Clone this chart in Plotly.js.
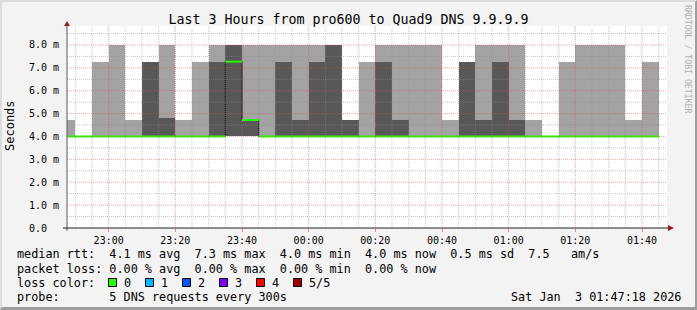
<!DOCTYPE html>
<html>
<head>
<meta charset="utf-8">
<script src="https://cdn.plot.ly/plotly-3.0.1.min.js"></script>
<style>
  html, body { margin: 0; padding: 0; background: #f3f3f3; }
  #wrap { position: relative; width: 697px; height: 310px; }
  #chart { position: absolute; left: 0; top: 0; width: 697px; height: 310px; }
  #frame { position: absolute; left: 0; top: 0; width: 697px; height: 310px; box-sizing: border-box;
           border-top: 2px solid #dcdcdc; border-left: 2px solid #dcdcdc;
           border-right: 2px solid #9e9e9e; border-bottom: 3px solid #9e9e9e; pointer-events: none; }
</style>
</head>
<body>
<div id="wrap"><div id="chart"></div><div id="frame"></div></div>
<script>
// ---- data (values in ms) ----
const binStart = [
  '2026-01-02 22:45','2026-01-02 22:50','2026-01-02 22:55','2026-01-02 23:00','2026-01-02 23:05',
  '2026-01-02 23:10','2026-01-02 23:15','2026-01-02 23:20','2026-01-02 23:25','2026-01-02 23:30',
  '2026-01-02 23:35','2026-01-02 23:40','2026-01-02 23:45','2026-01-02 23:50','2026-01-02 23:55',
  '2026-01-03 00:00','2026-01-03 00:05','2026-01-03 00:10','2026-01-03 00:15','2026-01-03 00:20',
  '2026-01-03 00:25','2026-01-03 00:30','2026-01-03 00:35','2026-01-03 00:40','2026-01-03 00:45',
  '2026-01-03 00:50','2026-01-03 00:55','2026-01-03 01:00','2026-01-03 01:05','2026-01-03 01:10',
  '2026-01-03 01:15','2026-01-03 01:20','2026-01-03 01:25','2026-01-03 01:30','2026-01-03 01:35',
  '2026-01-03 01:40'];
const lastBinEnd = '2026-01-03 01:45';
const pingMin  = [4.0,4.0,4.0,4.0,4.0,4.0,4.0,4.0,4.0,4.0,4.0,4.0,4.0,4.0,4.0,4.0,4.0,4.0,
                  4.0,4.0,4.0,4.0,4.0,4.0,4.0,4.0,4.0,4.0,4.0,4.0,4.0,4.0,4.0,4.0,4.0,4.0];
const pingLow  = [4.0,4.0,4.0,4.0,4.0,4.0,4.0,4.0,4.0,4.0,4.0,4.0,4.0,4.0,4.0,4.0,4.0,4.0,
                  4.0,4.0,4.0,4.0,4.0,4.0,4.0,4.0,4.0,4.0,4.0,4.0,4.0,4.0,4.0,4.0,4.0,4.0];
const pingMed  = [4.0,4.0,4.0,4.0,4.0,4.0,4.0,4.0,4.0,4.0,7.27,4.72,4.0,4.0,4.0,4.0,4.0,4.0,
                  4.0,4.0,4.0,4.0,4.0,4.0,4.0,4.0,4.0,4.0,4.0,4.0,4.0,4.0,4.0,4.0,4.0,4.0];
const pingHigh = [4.0,4.0,4.0,4.0,4.0,7.27,4.82,4.0,4.0,7.27,8.0,4.72,4.0,7.27,4.72,7.27,8.0,4.72,
                  4.0,7.27,4.72,4.0,4.0,4.0,7.27,4.72,7.27,4.72,4.0,4.0,4.0,4.0,4.0,4.0,4.0,4.0];
const pingMax  = [4.72,4.0,7.27,8.0,4.72,7.27,8.0,4.72,7.27,8.0,8.0,8.0,8.0,8.0,8.0,8.0,8.0,4.72,
                  7.27,8.0,8.0,8.0,8.0,4.72,7.27,8.0,8.0,8.0,4.72,4.0,7.27,8.0,8.0,8.0,4.72,7.27];
const yTickVals = [0,1,2,3,4,5,6,7,8];
const yTickText = ['0.0  ','1.0 m','2.0 m','3.0 m','4.0 m','5.0 m','6.0 m','7.0 m','8.0 m'];
const xTickVals = ['2026-01-02 23:00','2026-01-02 23:20','2026-01-02 23:40','2026-01-03 00:00',
                   '2026-01-03 00:20','2026-01-03 00:40','2026-01-03 01:00','2026-01-03 01:20','2026-01-03 01:40'];
const xTickText = ['23:00','23:20','23:40','00:00','00:20','00:40','01:00','01:20','01:40'];
const legendLines = [
  'median rtt:  4.1 ms avg  7.3 ms max  4.0 ms min  4.0 ms now  0.5 ms sd  7.5   am/s',
  'packet loss: 0.00 % avg  0.00 % max  0.00 % min  0.00 % now',
  'loss color:',
  'probe:       5 DNS requests every 300s'
];
const lossLabels = ['0','1','2','3','4','5/5'];
const lossColors = ['#26ff00','#00b8ff','#0059ff','#7e00ff','#ff0000','#a10000'];
const titleText = 'Last 3 Hours from pro600 to Quad9 DNS 9.9.9.9';
const dateText = 'Sat Jan  3 01:47:18 2026';

// ---- geometry helpers ----
const W = 697, H = 310, L = 67, R = 667, T = 26, B = 228;
const px = x => (x - L) / (R - L);
const py = y => (B - y) / (B - T);
const nb = s => s.replace(/ /g, '\u00a0');
const MONO = 'DejaVu Sans Mono, monospace';
const BIN_MS = 300000;
const binEnd = binStart.slice(1).concat([lastBinEnd]);

// median as separate horizontal segments per bin
const medX = [], medY = [];
binStart.forEach((s, i) => { medX.push(s, binEnd[i], null); medY.push(pingMed[i], pingMed[i], null); });

const traces = [
  { type: 'bar', x: binStart, base: pingMin, y: pingMax.map((v, i) => v - pingMin[i]),
    width: BIN_MS, offset: 0, marker: { color: '#a3a3a3', line: { width: 0 } }, hoverinfo: 'skip' },
  { type: 'bar', x: binStart, base: pingLow, y: pingHigh.map((v, i) => v - pingLow[i]),
    width: BIN_MS, offset: 0, marker: { color: '#585858', line: { width: 0 } }, hoverinfo: 'skip' },
  { type: 'scatter', mode: 'lines', x: binStart.concat([lastBinEnd]),
    y: pingMed.concat([pingMed[pingMed.length - 1]]),
    line: { shape: 'hv', color: '#111111', width: 1 }, hoverinfo: 'skip' },
  { type: 'scatter', mode: 'lines', x: medX, y: medY, connectgaps: false,
    line: { color: lossColors[0], width: 2 }, hoverinfo: 'skip' }
];

const shapes = [];
const toStr = ms => new Date(ms).toISOString().replace('T', ' ').slice(0, 19);
const t0 = Date.UTC(2026, 0, 2, 22, 50), t1 = Date.UTC(2026, 0, 3, 1, 45);
for (let t = t0; t <= t1; t += BIN_MS) {
  const major = (new Date(t).getUTCMinutes() % 20) === 0;
  shapes.push({ type: 'line', xref: 'x', yref: 'paper', x0: toStr(t), x1: toStr(t), y0: 0, y1: 1,
    layer: 'above', line: { color: major ? 'rgba(222,80,80,0.5)' : 'rgba(143,143,143,0.5)', width: 1, dash: '1px,1px' } });
}
for (let v = 0.5; v <= 8.5; v += 0.5) {
  const major = Number.isInteger(v);
  shapes.push({ type: 'line', xref: 'paper', yref: 'y', x0: 0, x1: 1, y0: v, y1: v,
    layer: 'above', line: { color: major ? 'rgba(222,80,80,0.5)' : 'rgba(143,143,143,0.5)', width: 1, dash: '1px,1px' } });
}
// axes
shapes.push({ type: 'line', xref: 'paper', yref: 'paper', x0: 0, x1: 0, y0: py(231), y1: 1,
  layer: 'above', line: { color: '#5a5a5a', width: 1 } });
shapes.push({ type: 'line', xref: 'paper', yref: 'paper', x0: px(63), x1: px(669), y0: 0, y1: 0,
  layer: 'above', line: { color: '#202020', width: 1 } });
// arrows
shapes.push({ type: 'path', xref: 'paper', yref: 'paper', xsizemode: 'pixel', ysizemode: 'pixel',
  xanchor: 0, yanchor: 1, path: 'M -3,0 L 3,0 L 0,5 Z', fillcolor: '#9b1c1c', line: { width: 0 }, layer: 'above' });
shapes.push({ type: 'path', xref: 'paper', yref: 'paper', xsizemode: 'pixel', ysizemode: 'pixel',
  xanchor: px(668), yanchor: 0, path: 'M 0,-3 L 0,3 L 6,0 Z', fillcolor: '#9b1c1c', line: { width: 0 }, layer: 'above' });

const annotations = [];
const lineY = [254.5, 268.5, 282.5, 296.5];
legendLines.forEach((s, i) => {
  annotations.push({ xref: 'paper', yref: 'paper', x: px(15), y: py(lineY[i]), xanchor: 'left', yanchor: 'middle',
    showarrow: false, text: nb(s), font: { family: MONO, size: 11.8, color: '#000' } });
});
const sqX = [108.5, 145.5, 182.5, 219.5, 256.5, 293.5];
lossLabels.forEach((lab, i) => {
  shapes.push({ type: 'rect', xref: 'paper', yref: 'paper', x0: px(sqX[i]), x1: px(sqX[i] + 8),
    y0: py(286.5), y1: py(278.5), fillcolor: lossColors[i], line: { color: '#000', width: 1 } });
  annotations.push({ xref: 'paper', yref: 'paper', x: px(sqX[i] + 13), y: py(lineY[2]), xanchor: 'left', yanchor: 'middle',
    showarrow: false, text: lab, font: { family: MONO, size: 11.8, color: '#000' } });
});
annotations.push({ xref: 'paper', yref: 'paper', x: px(683), y: py(lineY[3]), xanchor: 'right', yanchor: 'middle',
  showarrow: false, text: nb(dateText), font: { family: MONO, size: 11.8, color: '#000' } });
annotations.push({ xref: 'paper', yref: 'paper', x: px(10), y: py(126), xanchor: 'center', yanchor: 'middle',
  showarrow: false, textangle: -90, text: 'Seconds', font: { family: MONO, size: 12, color: '#000' } });
annotations.push({ xref: 'paper', yref: 'paper', x: px(688), y: py(59), xanchor: 'center', yanchor: 'middle',
  showarrow: false, textangle: 90, text: nb('RRDTOOL / TOBI OETIKER'), font: { family: MONO, size: 8.2, color: '#b0b0b0' } });

const layout = {
  width: W, height: H,
  margin: { l: L, r: W - R, t: T, b: H - B, pad: 0 },
  paper_bgcolor: '#f3f3f3', plot_bgcolor: '#ffffff',
  showlegend: false, barmode: 'overlay', bargap: 0,
  title: { text: titleText, font: { family: MONO, size: 13.3, color: '#000' },
           x: 0.5, xref: 'container', xanchor: 'center', y: 1 - 19 / H, yref: 'container', yanchor: 'middle' },
  xaxis: { type: 'date', range: ['2026-01-02 22:47:30', '2026-01-03 01:47:30'],
           tickvals: xTickVals, ticktext: xTickText, showgrid: false, zeroline: false, showline: false,
           ticks: 'outside', ticklen: 3, tickcolor: 'rgba(222,80,80,0.7)', tickfont: { family: MONO, size: 10, color: '#000' },
           fixedrange: true },
  yaxis: { range: [0, 8.83], tickvals: yTickVals, ticktext: yTickText.map(nb), showgrid: false, zeroline: false,
           showline: false, ticks: 'outside', ticklen: 5, tickcolor: 'rgba(0,0,0,0)',
           tickfont: { family: MONO, size: 10, color: '#000' }, fixedrange: true },
  shapes: shapes, annotations: annotations
};
Plotly.newPlot('chart', traces, layout, { displayModeBar: false, staticPlot: true });
</script>
</body>
</html>
